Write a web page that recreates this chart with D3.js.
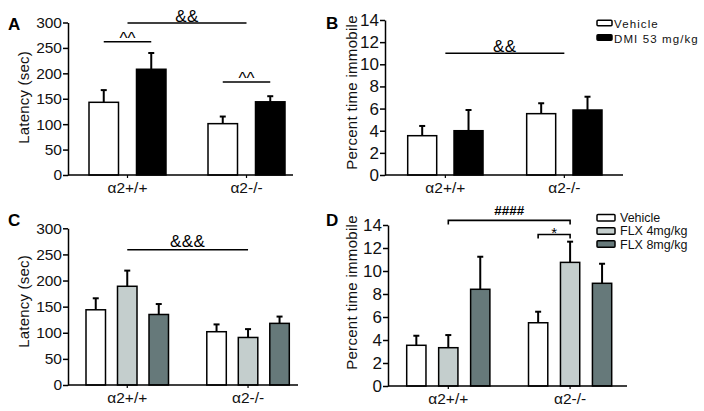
<!DOCTYPE html>
<html>
<head>
<meta charset="utf-8">
<script src="https://cdn.jsdelivr.net/npm/d3@7"></script>
<style>
  body { margin: 0; background: #fff; }
  svg { font-family: Arial, "Liberation Sans", sans-serif; }
</style>
</head>
<body>
<svg id="chart" width="704" height="411"></svg>
<script>
// Grupos, series y ticks
var grupos = ["α2+/+", "α2-/-"];
var seriesDMI = ["Vehicle", "DMI 53 mg/kg"];
var seriesFLX = ["Vehicle", "FLX 4mg/kg", "FLX 8mg/kg"];
var ticksLatencia = [0, 50, 100, 150, 200, 250, 300];
var ticksInmovil = [0, 2, 4, 6, 8, 10, 12, 14];

// Panel A: latencia, vehicle / DMI (media y error por grupo)
var latenciaDMI = [[143, 208], [101, 144]];
var latenciaDMIerr = [[24, 32], [14, 11]];
// Panel B: % tiempo inmóvil, vehicle / DMI
var inmovilDMI = [[3.55, 4.0], [5.54, 5.87]];
var inmovilDMIerr = [[0.88, 1.87], [0.94, 1.2]];
// Panel C: latencia, vehicle / FLX 4 / FLX 8
var latenciaFLX = [[144, 189, 135], [102, 91, 118]];
var latenciaFLXerr = [[22, 30, 20], [14, 16, 13]];
// Panel D: % tiempo inmóvil, vehicle / FLX 4 / FLX 8
var inmovilFLX = [[3.54, 3.33, 8.41], [5.5, 10.75, 8.93]];
var inmovilFLXerr = [[0.83, 1.1, 2.83], [0.96, 1.8, 1.7]];

// Marcas de significación: [grupo, serie] de cada extremo (serie null = centro del grupo)
var marcasA = [
  {text: "&&", from: [0, null], to: [1, null], value: 299},
  {text: "^^", from: [0, 0], to: [0, 1], value: 262},
  {text: "^^", from: [1, 0], to: [1, 1], value: 183}
];
var marcasB = [{text: "&&", from: [0, null], to: [1, null], value: 11}];
var marcasC = [{text: "&&&", from: [0, null], to: [1, null], value: 259}];
var marcasD = [
  {text: "####", from: [0, 1], to: [1, 1], value: 14.4},
  {text: "*", from: [1, 0], to: [1, 1], value: 13.17}
];

var coloresDMI = ["#ffffff", "#000000"];
var coloresFLX = ["#ffffff", "#c4cecd", "#66797a"];

var svg = d3.select("#chart");

function dibujarPanel(cfg) {
  var g = svg.append("g");

  var y = d3.scaleLinear().domain([0, cfg.max]).range([cfg.yBottom, cfg.yTop]);
  var xg = d3.scaleBand().domain(grupos).range([cfg.barL, cfg.barR])
    .paddingInner(cfg.pGrupo).paddingOuter(0);
  var xs = d3.scaleBand().domain(cfg.series).range([0, xg.bandwidth()])
    .paddingInner(cfg.pSerie).paddingOuter(0);

  function centro(ref) {
    if (ref[1] === null) return xg(grupos[ref[0]]) + xg.bandwidth() / 2;
    return xg(grupos[ref[0]]) + xs(cfg.series[ref[1]]) + xs.bandwidth() / 2;
  }

  // barras y barras de error (solo hacia arriba)
  cfg.medias.forEach(function(fila, i) {
    fila.forEach(function(v, j) {
      var x = xg(grupos[i]) + xs(cfg.series[j]);
      var cx = x + xs.bandwidth() / 2;
      var top = y(v + cfg.errores[i][j]);
      g.append("line")
        .attr("x1", cx).attr("x2", cx)
        .attr("y1", y(v)).attr("y2", top)
        .attr("stroke", "#000").attr("stroke-width", 2);
      g.append("line")
        .attr("x1", cx - 3).attr("x2", cx + 3)
        .attr("y1", top).attr("y2", top)
        .attr("stroke", "#000").attr("stroke-width", 2);
      g.append("rect")
        .attr("x", x)
        .attr("y", y(v))
        .attr("width", xs.bandwidth())
        .attr("height", y(0) - y(v))
        .attr("fill", cfg.colores[j])
        .attr("stroke", "#000")
        .attr("stroke-width", 1.5);
    });
  });

  // eje Y
  var ejeY = g.append("g")
    .attr("transform", "translate(" + cfg.x0 + ",0)")
    .call(d3.axisLeft(y).tickValues(cfg.ticks).tickSize(5).tickSizeOuter(0).tickPadding(1));
  ejeY.select(".domain").attr("stroke-width", 1.5);
  ejeY.selectAll(".tick line").attr("stroke-width", 1.5);
  ejeY.selectAll("text")
    .attr("font-size", cfg.tickFont)
    .attr("font-family", "Arial, 'Liberation Sans', sans-serif")
    .attr("fill", "#111");

  // eje X
  g.append("line")
    .attr("x1", cfg.x0).attr("x2", cfg.x1)
    .attr("y1", cfg.yBottom).attr("y2", cfg.yBottom)
    .attr("stroke", "#000").attr("stroke-width", 1.5);
  grupos.forEach(function(gr, i) {
    var cx = centro([i, null]);
    g.append("line")
      .attr("x1", cx).attr("x2", cx)
      .attr("y1", cfg.yBottom).attr("y2", cfg.yBottom + 3)
      .attr("stroke", "#000").attr("stroke-width", 1.2);
    g.append("text")
      .attr("x", cx).attr("y", cfg.yBottom + 18)
      .attr("text-anchor", "middle")
      .attr("font-size", 15.5)
      .attr("fill", "#111")
      .text(gr);
  });

  // título del eje Y
  g.append("text")
    .attr("transform", "translate(" + cfg.labelX + "," + cfg.labelY + ")rotate(-90)")
    .attr("text-anchor", "middle")
    .attr("font-size", 15)
    .attr("letter-spacing", cfg.labelSpacing)
    .attr("fill", "#111")
    .text(cfg.label);

  // letra del panel
  g.append("text")
    .attr("x", cfg.letraX).attr("y", cfg.letraY)
    .attr("font-size", 17)
    .attr("font-weight", "bold")
    .text(cfg.letra);

  // significación
  cfg.marcas.forEach(function(m) {
    var xa = centro(m.from), xb = centro(m.to), yl = y(m.value);
    if (cfg.corchete) {
      g.append("path")
        .attr("d", "M" + xa + "," + (yl + 4) + "V" + yl + "H" + xb + "V" + (yl + 4))
        .attr("fill", "none").attr("stroke", "#000").attr("stroke-width", 1.6);
    } else {
      g.append("line")
        .attr("x1", xa).attr("x2", xb)
        .attr("y1", yl).attr("y2", yl)
        .attr("stroke", "#000").attr("stroke-width", 1.6);
    }
    var estilo = cfg.estiloMarca(m.text);
    g.append("text")
      .attr("x", (xa + xb) / 2)
      .attr("y", yl + estilo.dy)
      .attr("text-anchor", "middle")
      .attr("font-size", estilo.size)
      .attr("font-weight", estilo.weight)
      .attr("letter-spacing", estilo.spacing)
      .text(m.text);
  });

  // leyenda
  if (cfg.leyenda) {
    var L = cfg.leyenda;
    cfg.series.forEach(function(s, j) {
      var yy = L.y + j * L.paso;
      g.append("rect")
        .attr("x", L.x).attr("y", yy - L.h / 2)
        .attr("width", L.w).attr("height", L.h)
        .attr("rx", 1)
        .attr("fill", cfg.colores[j])
        .attr("stroke", "#000").attr("stroke-width", 1.5);
      g.append("text")
        .attr("x", L.x + L.w + L.gap).attr("y", yy + L.dy)
        .attr("font-size", L.size)
        .attr("letter-spacing", L.spacing)
        .attr("fill", "#111")
        .text(s);
    });
  }
}

function estiloAmp(t) {
  if (t === "^^") return {size: 17, weight: "normal", spacing: 0, dy: 2};
  if (t === "&&&") return {size: 17, weight: "normal", spacing: 0.5, dy: -3};
  return {size: 17, weight: "normal", spacing: 0.5, dy: -1};
}
function estiloD(t) {
  if (t === "*") return {size: 15, weight: "normal", spacing: 0, dy: 3.5};
  return {size: 13.5, weight: "bold", spacing: 0, dy: -5};
}

dibujarPanel({
  letra: "A", letraX: 8, letraY: 29.5,
  medias: latenciaDMI, errores: latenciaDMIerr, series: seriesDMI, colores: coloresDMI,
  max: 300, ticks: ticksLatencia, tickFont: 15.5,
  x0: 68, x1: 293, yTop: 22.5, yBottom: 175,
  barL: 89, barR: 285, pGrupo: 0.353, pSerie: 0.379,
  label: "Latency (sec)", labelX: 29, labelY: 97.5, labelSpacing: 0.2,
  marcas: marcasA, corchete: false, estiloMarca: estiloAmp
});

dibujarPanel({
  letra: "B", letraX: 326, letraY: 28.5,
  medias: inmovilDMI, errores: inmovilDMIerr, series: seriesDMI, colores: coloresDMI,
  max: 14, ticks: ticksInmovil, tickFont: 17,
  x0: 385, x1: 623, yTop: 20, yBottom: 175,
  barL: 407.7, barR: 602, pGrupo: 0.367, pSerie: 0.374,
  label: "Percent time immobile", labelX: 357, labelY: 92.5, labelSpacing: 0.3,
  marcas: marcasB, corchete: false, estiloMarca: estiloAmp,
  leyenda: {x: 597, y: 23, paso: 14.5, w: 15, h: 5.5, gap: 2, dy: 5, size: 11.5, spacing: 1.1}
});

dibujarPanel({
  letra: "C", letraX: 8, letraY: 225.5,
  medias: latenciaFLX, errores: latenciaFLXerr, series: seriesFLX, colores: coloresFLX,
  max: 300, ticks: ticksLatencia, tickFont: 15.5,
  x0: 68, x1: 298, yTop: 228.3, yBottom: 385,
  barL: 86, barR: 289.3, pGrupo: 0.317, pSerie: 0.381,
  label: "Latency (sec)", labelX: 29, labelY: 301.5, labelSpacing: 0.2,
  marcas: marcasC, corchete: false, estiloMarca: estiloAmp
});

dibujarPanel({
  letra: "D", letraX: 326, letraY: 225.5,
  medias: inmovilFLX, errores: inmovilFLXerr, series: seriesFLX, colores: coloresFLX,
  max: 14, ticks: ticksInmovil, tickFont: 17,
  x0: 388, x1: 627, yTop: 225, yBottom: 386,
  barL: 406.7, barR: 611.7, pGrupo: 0.317, pSerie: 0.397,
  label: "Percent time immobile", labelX: 357, labelY: 292.5, labelSpacing: 0.3,
  marcas: marcasD, corchete: true, estiloMarca: estiloD,
  leyenda: {x: 597, y: 217.7, paso: 13.2, w: 18, h: 6.5, gap: 5, dy: 4.5, size: 12.5, spacing: 0}
});
</script>
</body>
</html>
